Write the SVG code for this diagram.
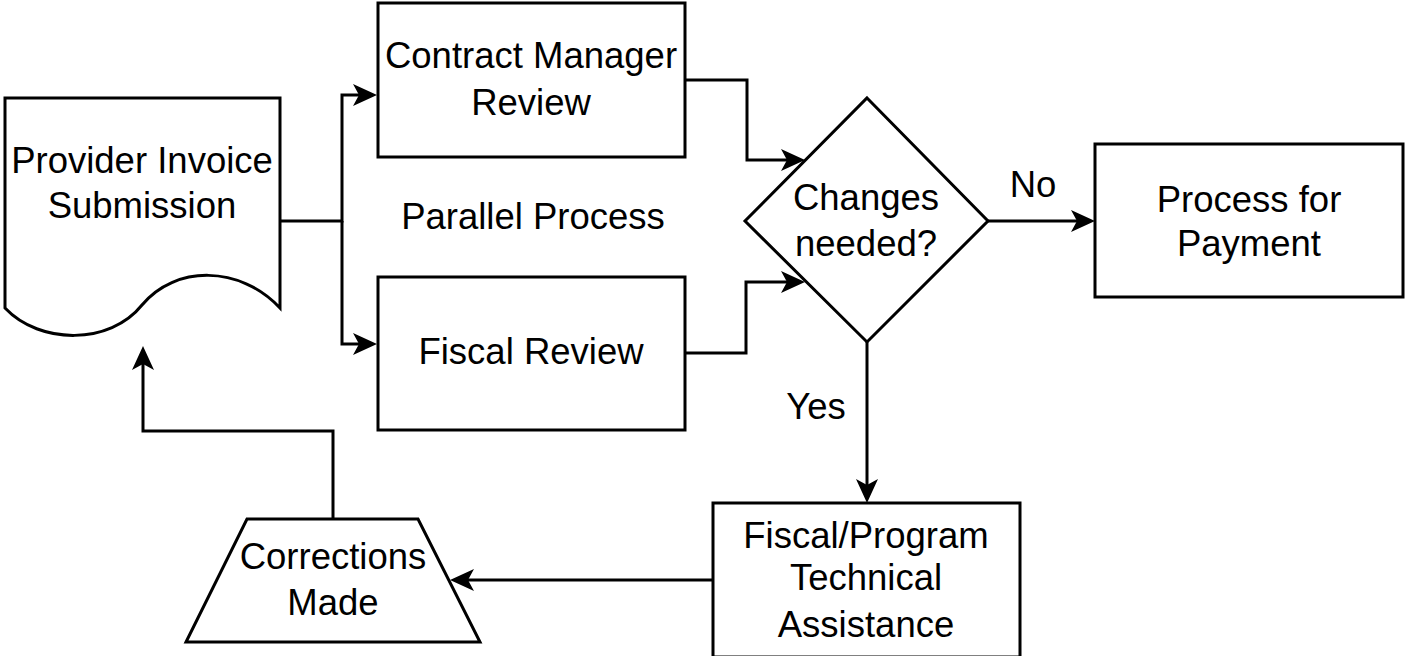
<svg xmlns="http://www.w3.org/2000/svg" width="1409" height="656" viewBox="0 0 1409 656">
<style>
.shape{fill:#fff;stroke:#000;stroke-width:3}
.conn{fill:none;stroke:#000;stroke-width:3}
text{font-family:"Liberation Sans",Arial,sans-serif;font-size:36.5px;fill:#000;text-anchor:middle}
</style>
<defs>
<marker id="arr" viewBox="0 0 24 22" refX="19" refY="11" markerWidth="24" markerHeight="22" markerUnits="userSpaceOnUse" orient="auto">
<path d="M0,0 L24,11 L0,22 L6,11 Z" fill="#000"/>
</marker>
</defs>
<rect width="1409" height="656" fill="#fff"/>
<g id="connectors">
<path class="conn" d="M280,221 H342 V95 H372" marker-end="url(#arr)"/>
<path class="conn" d="M342,221 V344 H372" marker-end="url(#arr)"/>
<path class="conn" d="M685,80 H747 V160 H800" marker-end="url(#arr)"/>
<path class="conn" d="M685,353 H746 V282 H800" marker-end="url(#arr)"/>
<path class="conn" d="M988,221 H1090" marker-end="url(#arr)"/>
<path class="conn" d="M867,342 V498" marker-end="url(#arr)"/>
<path class="conn" d="M713,580 H455" marker-end="url(#arr)"/>
<path class="conn" d="M333,519 V431 H143 V351" marker-end="url(#arr)"/>
</g>
<g id="provider">
<path class="shape" d="M5,98 H280 V308 C240,265 175,265 142,305 C110,345 40,345 5,308 Z"/>
<text x="142" y="173">Provider Invoice</text>
<text x="142" y="218">Submission</text>
</g>
<g id="contract">
<rect class="shape" x="378" y="3" width="307" height="154"/>
<text x="531" y="68">Contract Manager</text>
<text x="531" y="115">Review</text>
</g>
<g id="parallel">
<text x="533" y="229">Parallel Process</text>
</g>
<g id="fiscal">
<rect class="shape" x="378" y="277" width="307" height="153"/>
<text x="531" y="364">Fiscal Review</text>
</g>
<g id="decision">
<path class="shape" d="M867,98 L988,221 L867,342 L745,221 Z"/>
<text x="866" y="210">Changes</text>
<text x="866" y="256">needed?</text>
</g>
<g id="no-label"><text x="1033" y="197">No</text></g>
<g id="yes-label"><text x="816" y="419">Yes</text></g>
<g id="payment">
<rect class="shape" x="1095" y="144" width="308" height="153"/>
<text x="1249" y="212">Process for</text>
<text x="1249" y="256">Payment</text>
</g>
<g id="assistance">
<rect class="shape" x="713" y="503" width="307" height="154"/>
<text x="866" y="548">Fiscal/Program</text>
<text x="866" y="590">Technical</text>
<text x="866" y="637">Assistance</text>
</g>
<g id="corrections">
<path class="shape" d="M247,519 H418 L480,642 H186 Z"/>
<text x="333" y="569">Corrections</text>
<text x="333" y="615">Made</text>
</g>
</svg>
